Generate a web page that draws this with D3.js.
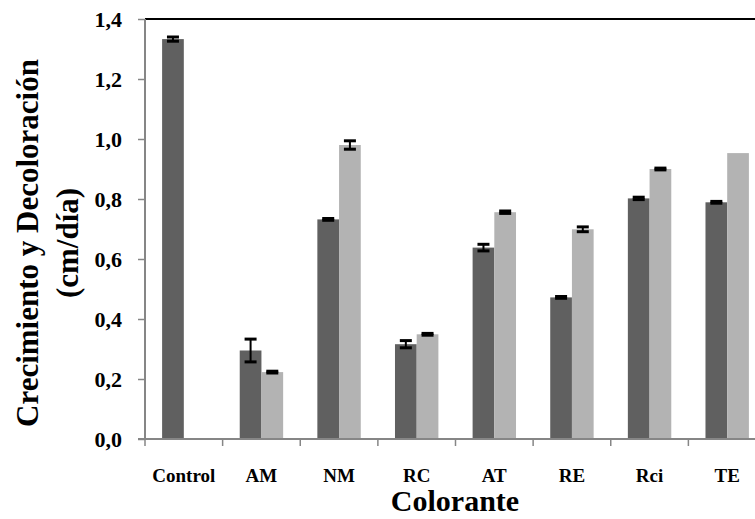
<!DOCTYPE html>
<html>
<head>
<meta charset="utf-8">
<script src="https://cdn.jsdelivr.net/npm/d3@7"></script>
<style>
  html, body { margin: 0; padding: 0; background: #fff; }
  svg { display: block; }
  text { font-family: "Liberation Serif", "Times New Roman", serif; font-weight: bold; fill: #000; }
</style>
</head>
<body>
<svg id="chart" width="755" height="519"></svg>
<script>
// Dye categories and the two measured series (cm/día) with their error bars
const categories = ["Control", "AM", "NM", "RC", "AT", "RE", "Rci", "TE"];
const crecimiento = [1.333, 0.295, 0.732, 0.316, 0.638, 0.472, 0.802, 0.789];
const crecimientoErr = [0.007, 0.038, 0.003, 0.012, 0.011, 0.003, 0.004, 0.003];
const decoloracion = [0, 0.223, 0.980, 0.349, 0.756, 0.699, 0.900, 0.953];
const decoloracionErr = [0, 0.003, 0.014, 0.003, 0.004, 0.008, 0.003, 0];
const yTicks = [0, 0.2, 0.4, 0.6, 0.8, 1.0, 1.2, 1.4];
const seriesNames = ["Crecimiento", "Decoloración"];
const seriesColors = ["#606060", "#b3b3b3"];

const svg = d3.select("#chart");
const plot = { left: 145, top: 19, right: 766, bottom: 439 };

const x = d3.scaleBand().domain(categories).range([plot.left, plot.right]).padding(0);
const xs = d3.scaleBand().domain(seriesNames).range([0, x.bandwidth()])
  .paddingInner(0).paddingOuter(0.788);
const y = d3.scaleLinear().domain([0, 1.4]).range([plot.bottom, plot.top]);

const fmt = v => d3.format(".1f")(v).replace(".", ",");

// Plot area frame (top edge visible)
svg.append("line")
  .attr("x1", plot.left).attr("x2", plot.right)
  .attr("y1", plot.top).attr("y2", plot.top)
  .attr("stroke", "#000").attr("stroke-width", 2);

// Bars
const rows = categories.map((c, i) => ({
  cat: c,
  vals: [
    { s: seriesNames[0], v: crecimiento[i], e: crecimientoErr[i] },
    { s: seriesNames[1], v: decoloracion[i], e: decoloracionErr[i] }
  ]
}));

const groups = svg.append("g").selectAll("g").data(rows).join("g")
  .attr("transform", d => `translate(${x(d.cat)},0)`);

groups.selectAll("rect").data(d => d.vals.filter(v => v.v > 0)).join("rect")
  .attr("x", d => xs(d.s))
  .attr("width", xs.bandwidth())
  .attr("y", d => y(d.v))
  .attr("height", d => y(0) - y(d.v))
  .attr("fill", d => seriesColors[seriesNames.indexOf(d.s)]);

// Error bars
const eb = groups.selectAll("g.err").data(d => d.vals.filter(v => v.e > 0)).join("g")
  .attr("class", "err");
const cap = 6;
eb.append("line")
  .attr("x1", d => xs(d.s) + xs.bandwidth() / 2).attr("x2", d => xs(d.s) + xs.bandwidth() / 2)
  .attr("y1", d => y(d.v + d.e)).attr("y2", d => y(d.v - d.e))
  .attr("stroke", "#000").attr("stroke-width", 2);
eb.selectAll("line.cap").data(d => [[d, d.v + d.e], [d, d.v - d.e]]).join("line")
  .attr("class", "cap")
  .attr("x1", d => xs(d[0].s) + xs.bandwidth() / 2 - cap)
  .attr("x2", d => xs(d[0].s) + xs.bandwidth() / 2 + cap)
  .attr("y1", d => y(d[1])).attr("y2", d => y(d[1]))
  .attr("stroke", "#000").attr("stroke-width", 3);

// Y axis
const yAxis = svg.append("g").attr("transform", `translate(${plot.left},0)`)
  .call(d3.axisLeft(y).tickValues(yTicks).tickFormat(fmt).tickSize(7).tickPadding(16));
yAxis.select(".domain").attr("stroke", "#868686").attr("stroke-width", 2)
  .attr("d", `M0,${plot.top}V${plot.bottom + 1}`);
yAxis.selectAll(".tick line").attr("stroke", "#868686").attr("stroke-width", 1.5);
yAxis.selectAll(".tick text").style("font-size", "22px").attr("dy", "0.33em");

// X axis with ticks at category boundaries
const xAxis = svg.append("g").attr("transform", `translate(0,${plot.bottom})`);
xAxis.append("line").attr("x1", plot.left - 7).attr("x2", plot.right)
  .attr("y1", 0).attr("y2", 0).attr("stroke", "#868686").attr("stroke-width", 2);
xAxis.selectAll("line.tk").data(categories).join("line").attr("class", "tk")
  .attr("x1", d => x(d)).attr("x2", d => x(d))
  .attr("y1", 0).attr("y2", 7).attr("stroke", "#868686").attr("stroke-width", 1.5);
xAxis.selectAll("text").data(categories).join("text")
  .attr("x", d => x(d) + x.bandwidth() / 2)
  .attr("y", 43)
  .attr("text-anchor", "middle")
  .style("font-size", "19px")
  .text(d => d);

// Axis titles
svg.append("text").attr("x", 455).attr("y", 511).attr("text-anchor", "middle")
  .style("font-size", "30px").text("Colorante");

const yt = svg.append("text").attr("text-anchor", "middle")
  .attr("transform", "translate(0,243) rotate(-90)")
  .style("font-size", "31px");
yt.append("tspan").attr("x", 0).attr("y", 38).text("Crecimiento y Decoloración");
yt.append("tspan").attr("x", 0).attr("y", 78).text("(cm/día)");
</script>
</body>
</html>
